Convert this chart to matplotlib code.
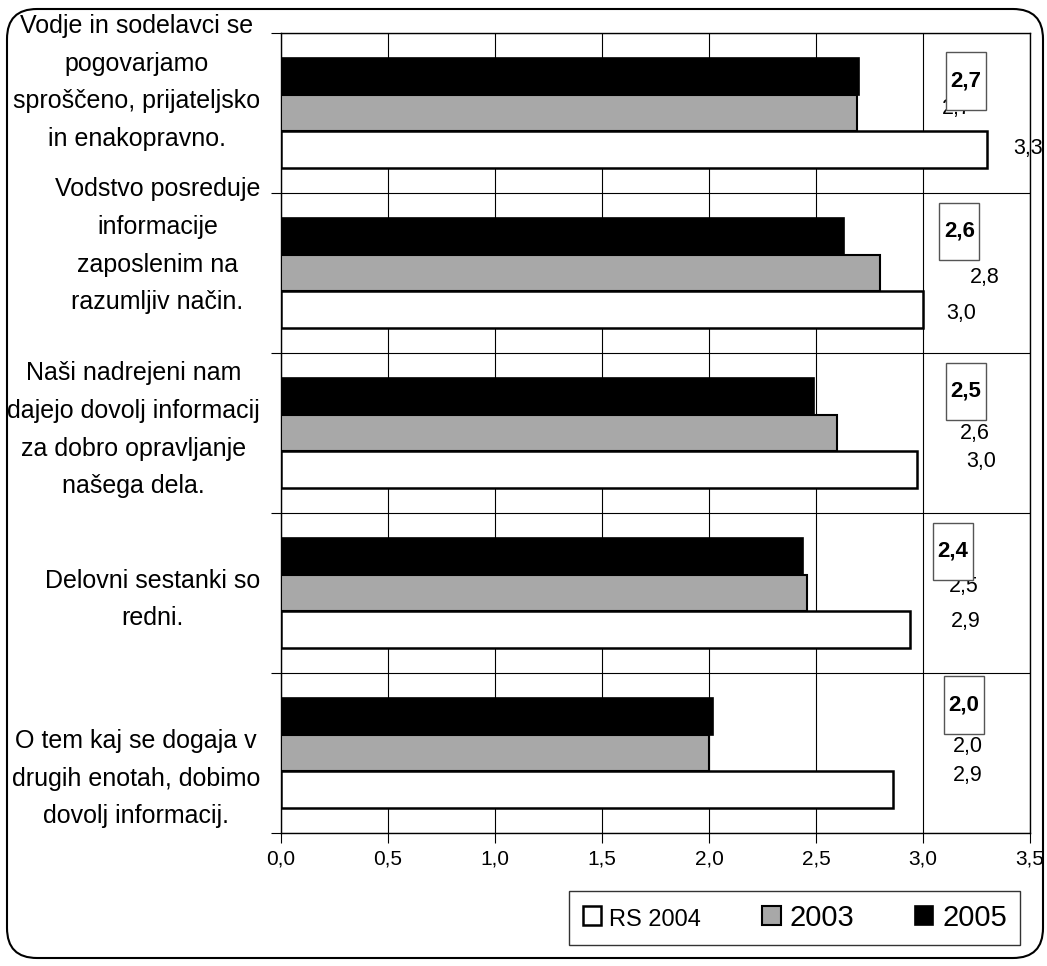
import matplotlib
matplotlib.use("Agg")
import matplotlib.pyplot as plt
from matplotlib.patches import FancyBboxPatch
from matplotlib.transforms import blended_transform_factory
import numpy as np

# ---- data -------------------------------------------------------------
categories = [
    "Vodje in sodelavci se\npogovarjamo\nsproščeno, prijateljsko\nin enakopravno.",
    "Vodstvo posreduje\ninformacije\nzaposlenim na\nrazumljiv način.",
    "Naši nadrejeni nam\ndajejo dovolj informacij\nza dobro opravljanje\nnašega dela.",
    "Delovni sestanki so\nredni.",
    "O tem kaj se dogaja v\ndrugih enotah, dobimo\ndovolj informacij.",
]
series_names = ["RS 2004", "2003", "2005"]
rs_2004 = [3.30, 3.00, 2.97, 2.94, 2.86]
y2003 = [2.69, 2.80, 2.60, 2.46, 2.00]
y2005 = [2.70, 2.63, 2.49, 2.44, 2.02]
x_ticks = [0.0, 0.5, 1.0, 1.5, 2.0, 2.5, 3.0, 3.5]

# ---- layout of the text around the bars ------------------------------
cat_label_shift = [0.19, 0.17, 0.02, -0.04, -0.16]
lab05_pos = [(3.20, 0.20), (3.17, 0.26), (3.20, 0.26), (3.14, 0.26), (3.19, 0.30)]
lab03_pos = [(3.16, 0.03), (3.29, -0.03), (3.24, 0.00), (3.19, 0.04), (3.21, 0.04)]
labrs_pos = [(3.49, -0.22), (3.18, -0.25), (3.27, -0.18), (3.20, -0.18), (3.21, -0.14)]

plt.rcParams['font.family'] = ['Liberation Sans', 'DejaVu Sans']


def fmt(v):
    return f"{v:.1f}".replace('.', ',')


W, H = 1047, 966
fig = plt.figure(figsize=(W / 100, H / 100), dpi=100)
ax = fig.add_axes([281 / W, 1 - 833 / H, (1030 - 281) / W, (833 - 33) / H])

n = len(categories)
centers = np.arange(n)[::-1].astype(float)
h = 0.228

b05 = ax.barh(centers + h, y2005, height=h, color='black', edgecolor='black',
              linewidth=1.2, zorder=3)
b03 = ax.barh(centers, y2003, height=h, color='#a8a8a8', edgecolor='black',
              linewidth=1.5, zorder=3)
brs = ax.barh(centers - h, rs_2004, height=h, color='white', edgecolor='black',
              linewidth=1.8, zorder=3)

ax.set_xlim(0, 3.5)
ax.set_ylim(-0.5, n - 0.5)
ax.set_xticks(x_ticks)
ax.set_xticklabels([fmt(v) for v in x_ticks])
ax.set_yticks(np.arange(-0.5, n, 1.0))
ax.set_yticklabels([])
ax.grid(True, color='black', linewidth=0.8)
ax.set_axisbelow(True)
ax.tick_params(axis='both', direction='out', length=7, width=0.8,
               labelsize=15, pad=5)
for s in ax.spines.values():
    s.set_linewidth(1.0)

# category labels, right-aligned blocks with centred lines
trans = blended_transform_factory(ax.transAxes, ax.transData)
for c, text, dy in zip(centers, categories, cat_label_shift):
    ax.annotate(text, xy=(0, c + dy), xycoords=trans, xytext=(-15, 0),
                textcoords='offset points', ha='right', va='center',
                multialignment='center', fontsize=18, linespacing=1.72)

# value labels
for c, v, (x, dy) in zip(centers, y2003, lab03_pos):
    ax.text(x, c + dy, fmt(v), ha='center', va='center', fontsize=15.5,
            clip_on=False, zorder=4)
for c, v, (x, dy) in zip(centers, rs_2004, labrs_pos):
    ax.text(x, c + dy, fmt(v), ha='center', va='center', fontsize=15.5,
            clip_on=False, zorder=4)
for c, v, (x, dy) in zip(centers, y2005, lab05_pos):
    ax.text(x, c + dy, "\n" + fmt(v) + "\n", ha='center', va='center',
            fontsize=16, fontweight='bold', linespacing=0.55, clip_on=False,
            zorder=5,
            bbox=dict(boxstyle='square,pad=0.2', fc='white', ec='#555555',
                      lw=1.0))

# legend
leg = fig.legend([brs, b03, b05], series_names, loc='lower right',
                 bbox_to_anchor=(1020 / W, 1 - 945 / H),
                 bbox_transform=fig.transFigure, ncol=3, fontsize=21,
                 frameon=True, fancybox=False, edgecolor='black',
                 handlelength=0.62, handleheight=0.62, handletextpad=0.3,
                 columnspacing=2.1, borderpad=0.45, borderaxespad=0)
leg.get_frame().set_linewidth(1.0)
leg.get_texts()[0].set_fontsize(17)

# rounded outer frame
fig.add_artist(FancyBboxPatch((0.07, 0.08), 10.36, 9.49,
                              boxstyle='round,pad=0,rounding_size=0.3',
                              transform=fig.dpi_scale_trans, fill=False,
                              linewidth=1.5, edgecolor='black'))

fig.savefig('out.png', dpi=100, facecolor='white')
